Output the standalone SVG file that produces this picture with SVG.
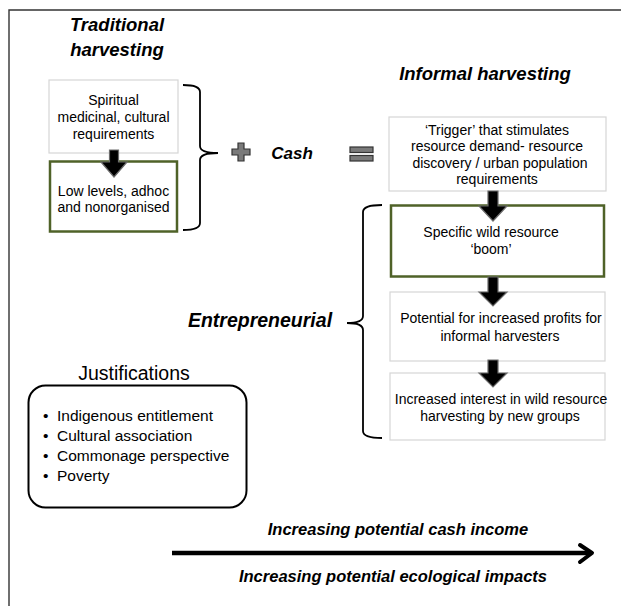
<svg xmlns="http://www.w3.org/2000/svg" width="621" height="606" viewBox="0 0 621 606">
<style>
.t{font-family:"Liberation Sans",Arial,sans-serif;font-size:14px;fill:#000;text-anchor:middle}
.h{font-family:"Liberation Sans",Arial,sans-serif;font-weight:bold;font-style:italic;fill:#000;text-anchor:middle}
.j{font-family:"Liberation Sans",Arial,sans-serif;font-size:15.5px;fill:#000}
.lb{fill:#fff;stroke:#d6d6d6;stroke-width:1.2}
.gb{fill:#fff;stroke:#4f6228;stroke-width:2.5}
.arr{fill:#000;stroke:#6b6b6b;stroke-width:1.2}
.br{fill:none;stroke:#000;stroke-width:1.8}
</style>
<rect x="0" y="0" width="621" height="606" fill="#fff"/>
<g id="frame"><path d="M9,606 L9,10 L621,10" fill="none" stroke="#333" stroke-width="1.4"/></g>

<g id="title-traditional">
<text class="h" x="117" y="31" font-size="18.5">Traditional</text>
<text class="h" x="117" y="56" font-size="18.5">harvesting</text>
</g>
<g id="title-informal"><text class="h" x="485" y="80" font-size="18.5">Informal harvesting</text></g>

<g id="n-spiritual">
<rect class="lb" x="49" y="80" width="129" height="73"/>
<text class="t" x="113.5" y="105">Spiritual</text>
<text class="t" x="113.5" y="122">medicinal, cultural</text>
<text class="t" x="113.5" y="139">requirements</text>
</g>
<g id="n-low">
<rect class="gb" x="50" y="161.5" width="127" height="70"/>
<text class="t" x="113.5" y="196">Low levels, adhoc</text>
<text class="t" x="113.5" y="212">and nonorganised</text>
</g>

<g id="n-trigger">
<rect class="lb" x="389" y="117" width="217" height="74"/>
<text class="t" x="497" y="134.5">‘Trigger’ that stimulates</text>
<text class="t" x="497" y="151">resource demand- resource</text>
<text class="t" x="500" y="167.5">discovery / urban population</text>
<text class="t" x="497" y="184">requirements</text>
</g>
<g id="n-boom">
<rect class="gb" x="391" y="205.5" width="213" height="71"/>
<text class="t" x="491" y="237">Specific wild resource</text>
<text class="t" x="491" y="254">‘boom’</text>
</g>
<g id="n-profits">
<rect class="lb" x="390" y="292" width="215" height="69"/>
<text class="t" x="501" y="323">Potential for increased profits for</text>
<text class="t" x="500" y="341">informal harvesters</text>
</g>
<g id="n-interest">
<rect class="lb" x="390" y="373" width="215" height="67"/>
<text class="t" x="501" y="404">Increased interest in wild resource</text>
<text class="t" x="500" y="421">harvesting by new groups</text>
</g>

<g id="connectors">
<path class="arr" d="M109.5,150 L118.5,150 L118.5,162 L127,162 L114,177 L101,162 L109.5,162 Z"/>
<path class="arr" d="M488,191 L498,191 L498,206 L507,206 L493,221 L479,206 L488,206 Z"/>
<path class="arr" d="M488,277 L498,277 L498,292 L507,292 L493,306 L479,292 L488,292 Z"/>
<path class="arr" d="M488,360 L498,360 L498,373 L507,373 L493,387 L479,373 L488,373 Z"/>
<path class="br" d="M183,85 Q200,85 200,92 L200,146 Q200,153 218,153 Q200,153 200,160 L200,223 Q200,230 183,230"/>
<path class="br" d="M382,205 Q363,205 363,212 L363,316 Q363,323 347,323 Q363,323 363,330 L363,431 Q363,438 382,438"/>
</g>

<g id="op-plus">
<path d="M238,143 L244,143 L244,149 L250,149 L250,155 L244,155 L244,161 L238,161 L238,155 L232,155 L232,149 L238,149 Z" fill="#7a7a7a" stroke="#333" stroke-width="1.2"/>
</g>
<g id="label-cash"><text class="h" x="292" y="159" font-size="17">Cash</text></g>
<g id="op-equals">
<rect x="350" y="147" width="23" height="5.5" fill="#7a7a7a" stroke="#333" stroke-width="1.2"/>
<rect x="350" y="155.5" width="23" height="5.5" fill="#7a7a7a" stroke="#333" stroke-width="1.2"/>
</g>

<g id="label-entrepreneurial"><text class="h" x="260" y="327" font-size="19.5">Entrepreneurial</text></g>

<g id="justifications">
<text x="134" y="380" font-family="Liberation Sans, Arial, sans-serif" font-size="19.5" text-anchor="middle">Justifications</text>
<rect x="28.5" y="385.5" width="218" height="122" rx="17" fill="#fff" stroke="#000" stroke-width="2"/>
<text class="j" x="43" y="421">•</text><text class="j" x="57" y="421">Indigenous entitlement</text>
<text class="j" x="43" y="441">•</text><text class="j" x="57" y="441">Cultural association</text>
<text class="j" x="43" y="461">•</text><text class="j" x="57" y="461">Commonage perspective</text>
<text class="j" x="43" y="481">•</text><text class="j" x="57" y="481">Poverty</text>
</g>

<g id="gradient-arrow">
<text class="h" x="398" y="535" font-size="16.5">Increasing potential cash income</text>
<line x1="172" y1="553" x2="590" y2="553" stroke="#000" stroke-width="4.5"/>
<path d="M580,545 L592,553 L580,562" fill="none" stroke="#000" stroke-width="4" stroke-linecap="round" stroke-linejoin="round"/>
<text class="h" x="393" y="582" font-size="16.5">Increasing potential ecological impacts</text>
</g>
</svg>
